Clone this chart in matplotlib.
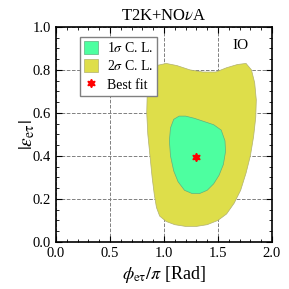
import matplotlib.pyplot as plt
import matplotlib.ticker as mticker

plt.rcParams['font.family'] = ['Liberation Serif', 'DejaVu Serif']
plt.rcParams['mathtext.fontset'] = 'stix'

# contour outlines (phi/pi, |eps|)
sig2_x = [0.86, 0.88, 0.93, 1.02, 1.12, 1.24, 1.36, 1.48, 1.58, 1.68, 1.76, 1.81, 1.84, 1.855, 1.85,
          1.83, 1.80, 1.76, 1.71, 1.65, 1.58, 1.50, 1.40, 1.30, 1.20, 1.10, 1.02, 0.96, 0.93, 0.91,
          0.89, 0.87, 0.85, 0.84, 0.845]
sig2_y = [0.76, 0.80, 0.82, 0.83, 0.82, 0.80, 0.79, 0.79, 0.81, 0.825, 0.83, 0.80, 0.74, 0.66, 0.58,
          0.49, 0.40, 0.32, 0.24, 0.18, 0.13, 0.10, 0.08, 0.072, 0.072, 0.08, 0.095, 0.12, 0.16, 0.22,
          0.30, 0.40, 0.50, 0.60, 0.70]
sig1_x = [1.06, 1.09, 1.14, 1.20, 1.28, 1.37, 1.46, 1.53, 1.565, 1.57, 1.55, 1.51, 1.46, 1.40, 1.33,
          1.26, 1.19, 1.13, 1.09, 1.06, 1.05]
sig1_y = [0.53, 0.57, 0.585, 0.585, 0.575, 0.56, 0.545, 0.52, 0.47, 0.42, 0.36, 0.31, 0.27, 0.24, 0.225,
          0.225, 0.24, 0.28, 0.33, 0.40, 0.47]
best_x = 1.30
best_y = 0.395

fig = plt.figure(figsize=(2.89, 2.89), dpi=100)
ax = fig.add_axes([0.194, 0.163, 0.747, 0.744])

ax.fill(sig2_x, sig2_y, color='#DEDE4A', ec='#b0b070', lw=0.5, label=r'2$\sigma$ C. L.', zorder=2)
ax.fill(sig1_x, sig1_y, color='#4DFFA0', ec='#60b080', lw=0.5, label=r'1$\sigma$ C. L.', zorder=3)
ax.plot(best_x, best_y, ls='none', marker=(6, 1, 0), ms=6, color='red', label='Best fit', zorder=4)

ax.set_xlim(0, 2)
ax.set_ylim(0, 1)
ax.xaxis.set_major_locator(mticker.MultipleLocator(0.5))
ax.xaxis.set_minor_locator(mticker.MultipleLocator(0.1))
ax.yaxis.set_major_locator(mticker.MultipleLocator(0.2))
ax.yaxis.set_minor_locator(mticker.MultipleLocator(0.05))
ax.xaxis.set_major_formatter(mticker.FormatStrFormatter('%.1f'))
ax.yaxis.set_major_formatter(mticker.FormatStrFormatter('%.1f'))
ax.tick_params(which='both', direction='in', top=True, right=True, labelsize=10.5)
ax.tick_params(which='major', length=4)
ax.tick_params(which='minor', length=2)
ax.grid(True, which='major', ls='--', color='gray', lw=0.7, zorder=1)
ax.set_axisbelow(True)
for s in ax.spines.values():
    s.set_linewidth(1.2)

ax.text(1.71, 0.915, 'IO', fontsize=11, ha='center', va='center')
ax.set_title(r'T2K+NO$\nu$A', fontsize=12, pad=5)
ax.set_xlabel(r'$\phi_{\rm e\tau}/\pi$ [Rad]', fontsize=13, labelpad=3)
ax.set_ylabel(r'$|\varepsilon_{\rm e\tau}|$', fontsize=14)
ax.yaxis.set_label_coords(-0.09, 0.5)

h, l = ax.get_legend_handles_labels()
ax.legend([h[1], h[0], h[2]], [l[1], l[0], l[2]], loc='upper left', bbox_to_anchor=(0.08, 0.985),
          fontsize=10, frameon=True, fancybox=False, edgecolor='gray', framealpha=1,
          handlelength=1.0, handleheight=1.0, borderpad=0.3, labelspacing=0.3, handletextpad=0.6)

fig.savefig('out.png', dpi=100)
